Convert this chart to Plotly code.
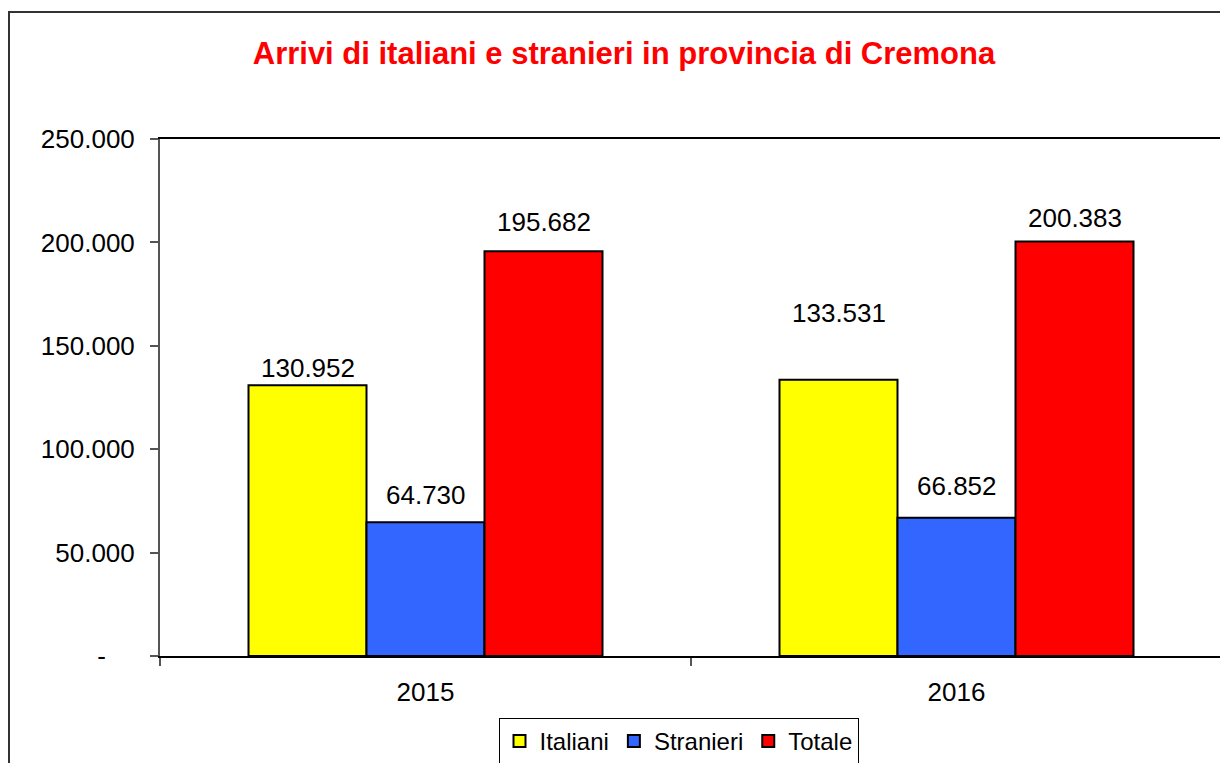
import plotly.graph_objects as go

years = ["2015", "2016"]
italiani = [130952, 133531]
stranieri = [64730, 66852]
totale = [195682, 200383]
series_names = ["Italiani", "Stranieri", "Totale"]
y_tick_vals = [0, 50000, 100000, 150000, 200000, 250000]

colors = ["#FFFF00", "#3366FF", "#FF0000"]
# vertical offset (px) of each data label above its bar top, per series
label_offsets = [[17, 67], [27, 32], [29, 24]]

FONT = "Liberation Sans, Arial, sans-serif"
FS = 26
W, H = 1220, 755  # page body has an 8px margin


def fmt(v):
    return f"{v:,}".replace(",", ".")


fig = go.Figure()
series = [italiani, stranieri, totale]
for name, vals, col in zip(series_names, series, colors):
    fig.add_trace(go.Bar(
        x=years, y=vals, name=name,
        marker=dict(color=col, line=dict(color="black", width=2)),
        hoverinfo="x+y",
    ))

# data labels (category index used for x on the category axis)
n = len(series)
for si, (vals, offs) in enumerate(zip(series, label_offsets)):
    for ci, v in enumerate(vals):
        fig.add_annotation(
            x=ci, y=v, text=fmt(v), showarrow=False,
            xref="x", yref="y", yanchor="middle", yshift=offs[ci],
            xshift=(si - (n - 1) / 2) * 118,
            font=dict(family=FONT, size=FS, color="black"),
        )

tick_text = ["-\u00a0\u00a0\u00a0\u00a0" if v == 0 else fmt(v) for v in y_tick_vals]

L, T, R, B = 152, 131, 6, 107
PW, PH = W - L - R, H - T - B

fig.update_layout(
    width=W, height=H,
    margin=dict(l=L, r=R, t=T, b=B, autoexpand=False),
    paper_bgcolor="white", plot_bgcolor="white",
    barmode="group", bargap=1/3, bargroupgap=0,
    font=dict(family=FONT, size=FS, color="black"),
    title=dict(
        text="<b>Arrivi di italiani e stranieri in provincia di Cremona</b>",
        font=dict(family=FONT, size=31, color="#FF0000"),
        x=616 / W, xanchor="center", y=1 - 45 / H, yanchor="middle",
    ),
    showlegend=True,
    legend=dict(
        orientation="h", x=(670.5 - L) / PW, xanchor="center",
        y=-62 / PH, yanchor="top",
        bordercolor="black", borderwidth=1, bgcolor="white",
        font=dict(family=FONT, size=24, color="black"),
        itemwidth=30, tracegroupgap=0,
    ),
    xaxis=dict(
        type="category",
        showline=True, linecolor="black", linewidth=2, mirror=True,
        ticks="outside", tickson="boundaries", ticklen=8, tickcolor="#555",
        tickwidth=2, showgrid=False, tickangle=0,
        tickfont=dict(family=FONT, size=FS, color="black"),
        ticklabelstandoff=12,
    ),
    yaxis=dict(
        range=[0, 250000], tickvals=y_tick_vals, ticktext=tick_text,
        showline=True, linecolor="#555", linewidth=2, mirror=True,
        ticks="outside", ticklen=8, tickcolor="#555", tickwidth=2,
        showgrid=False, zeroline=False,
        tickfont=dict(family=FONT, size=FS, color="black"),
        ticklabelstandoff=10,
    ),
    shapes=[dict(
        type="rect", xref="paper", yref="paper",
        x0=(1 - L) / PW, x1=1.2, y0=-0.6, y1=1 + (T - 4) / PH,
        line=dict(color="#333", width=2), fillcolor="rgba(0,0,0,0)", layer="below",
    )],
)

fig.write_html("out.html")
